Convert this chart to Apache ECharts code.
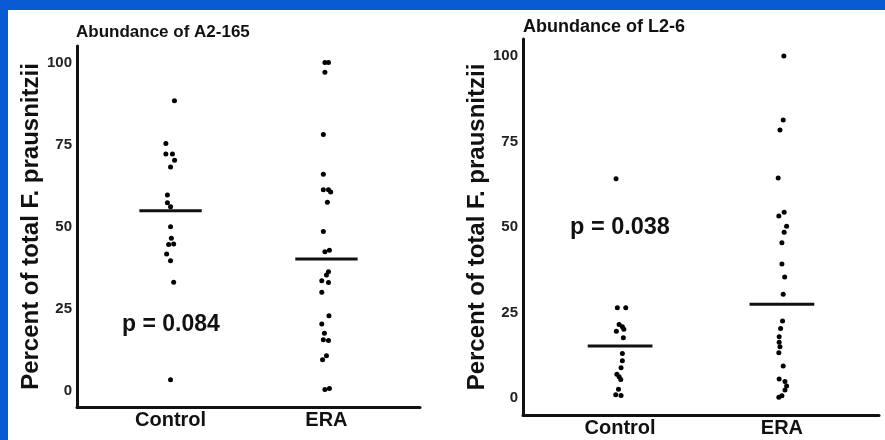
<!DOCTYPE html>
<html>
<head>
<meta charset="utf-8">
<script src="https://cdn.jsdelivr.net/npm/echarts@6/dist/echarts.min.js"></script>
<style>
  html, body { margin: 0; padding: 0; background: #0a5bd3; }
  #chart { width: 885px; height: 440px; }
</style>
</head>
<body>
<div id="chart"></div>
<script>
const groups = ['Control', 'ERA']
const yTicks = [0, 25, 50, 75, 100]
const yTitle = 'Percent of total F. prausnitzii'

// Abundance of A2-165 (left panel)
const a2Title = 'Abundance of A2-165'
const a2ControlValues = [88.3, 75.3, 72.1, 72.1, 70.2, 68.1, 59.6, 57.2, 56.0, 49.9, 46.4, 44.7, 44.5, 41.6, 39.6, 33.0, 3.3]
const a2ControlJitter = [0.025, -0.03, -0.03, 0.012, 0.026, 0, -0.02, -0.02, 0, 0, 0.005, 0.02, -0.012, -0.025, 0, 0.02, 0]
const a2EraValues = [100.0, 100.0, 97.0, 78.0, 65.9, 61.2, 61.2, 60.5, 57.4, 48.5, 42.3, 42.8, 36.2, 35.2, 33.5, 32.9, 30.0, 22.8, 20.3, 17.5, 15.5, 15.3, 10.6, 9.4, 0.3, 0.6]
const a2EraJitter = [-0.01, 0.013, -0.01, -0.02, -0.02, -0.02, 0.013, 0.027, 0.006, -0.02, -0.01, 0.019, 0.013, 0, -0.03, 0.013, -0.03, 0.016, -0.03, -0.013, -0.02, 0.013, 0, -0.025, -0.01, 0.019]
const a2Lines = [54.8, 40.1]
const a2PValue = 'p = 0.084'

// Abundance of L2-6 (right panel)
const l2Title = 'Abundance of L2-6'
const l2ControlValues = [64.1, 26.4, 26.4, 21.5, 20.8, 20.1, 19.5, 17.6, 13.0, 10.9, 8.8, 6.9, 6.2, 5.4, 2.5, 0.9, 0.7]
const l2ControlJitter = [-0.025, -0.017, 0.035, -0.006, 0.014, 0.023, -0.023, 0.02, 0.014, 0.014, 0.006, -0.02, -0.006, 0.004, -0.01, -0.027, 0.006]
const l2EraValues = [100.0, 81.3, 78.4, 64.3, 54.3, 53.2, 50.2, 48.5, 45.4, 39.2, 35.4, 30.3, 22.5, 20.3, 17.9, 16.3, 15.0, 13.2, 9.3, 5.5, 4.8, 3.5, 2.3, 0.6, 0.2]
const l2EraJitter = [0.012, 0.008, -0.012, -0.023, 0.014, -0.019, 0.029, 0.014, 0, 0, 0.017, 0.008, 0.004, -0.008, -0.017, -0.017, -0.012, -0.019, 0.008, -0.017, 0.019, 0.029, 0.019, 0, -0.019]
const l2Lines = [15.2, 27.4]
const l2PValue = 'p = 0.038'

const font = '"Liberation Sans", Arial, sans-serif'
const ink = '#111'

// 把数值和抖动合成散点坐标
const toPoints = (values, jitter, groupIndex) =>
    values.map((v, i) => [groupIndex + 1 + jitter[i], v])

const crossbar = (value, groupIndex) =>
    [[groupIndex + 1 - 0.2, value], [groupIndex + 1 + 0.2, value]]

const makeX = (gridIndex) => ({
    gridIndex,
    type: 'value',
    min: 0.4,
    max: 2.6,
    splitLine: { show: false },
    axisTick: { show: false },
    axisLine: { onZero: false, lineStyle: { color: ink, width: 3 } },
    axisLabel: {
        customValues: [1, 2],
        formatter: (v) => groups[Math.round(v) - 1],
        fontFamily: font,
        fontSize: 20,
        fontWeight: 'bold',
        color: ink,
        margin: 3
    }
})

const makeY = (gridIndex, gap) => ({
    gridIndex,
    type: 'value',
    min: -5,
    max: 105,
    splitLine: { show: false },
    axisTick: { show: false },
    axisLine: { show: true, onZero: false, lineStyle: { color: ink, width: 3 } },
    axisLabel: {
        customValues: yTicks,
        fontFamily: font,
        fontSize: 15,
        fontWeight: 'bold',
        color: '#222',
        margin: 5
    },
    name: yTitle,
    nameLocation: 'middle',
    nameRotate: 90,
    nameGap: gap,
    nameTextStyle: { fontFamily: font, fontSize: 24, fontWeight: 'bold', color: ink }
})

const dots = (data, idx) => ({
    type: 'scatter',
    xAxisIndex: idx,
    yAxisIndex: idx,
    data,
    symbolSize: 5,
    itemStyle: { color: '#000', opacity: 1 },
    z: 3
})

const bar = (data, idx) => ({
    type: 'line',
    xAxisIndex: idx,
    yAxisIndex: idx,
    data,
    symbol: 'none',
    lineStyle: { color: ink, width: 3 },
    z: 4
})

const label = (text, left, top, size) => ({
    type: 'text',
    left,
    top,
    style: { text, fill: ink, font: `bold ${size}px ${font}` }
})

const chart = echarts.init(document.getElementById('chart'))
chart.setOption({
    backgroundColor: '#0a5bd3',
    animation: false,
    grid: [
        { left: 77, top: 46, width: 343, height: 361 },
        { left: 523, top: 39, width: 356, height: 376 }
    ],
    xAxis: [makeX(0), makeX(1)],
    yAxis: [makeY(0, 34), makeY(1, 34)],
    series: [
        dots(toPoints(a2ControlValues, a2ControlJitter, 0), 0),
        dots(toPoints(a2EraValues, a2EraJitter, 1), 0),
        bar(crossbar(a2Lines[0], 0), 0),
        bar(crossbar(a2Lines[1], 1), 0),
        dots(toPoints(l2ControlValues, l2ControlJitter, 0), 1),
        dots(toPoints(l2EraValues, l2EraJitter, 1), 1),
        bar(crossbar(l2Lines[0], 0), 1),
        bar(crossbar(l2Lines[1], 1), 1)
    ],
    graphic: [
        {
            type: 'rect',
            z: -10,
            silent: true,
            shape: { x: 8, y: 10, width: 877, height: 430 },
            style: { fill: '#ffffff' }
        },
        label(a2Title, 76, 24, 17),
        label(l2Title, 523, 18, 18),
        label(a2PValue, 122, 313, 23),
        label(l2PValue, 570, 216, 23.5)
    ]
})
</script>
</body>
</html>
